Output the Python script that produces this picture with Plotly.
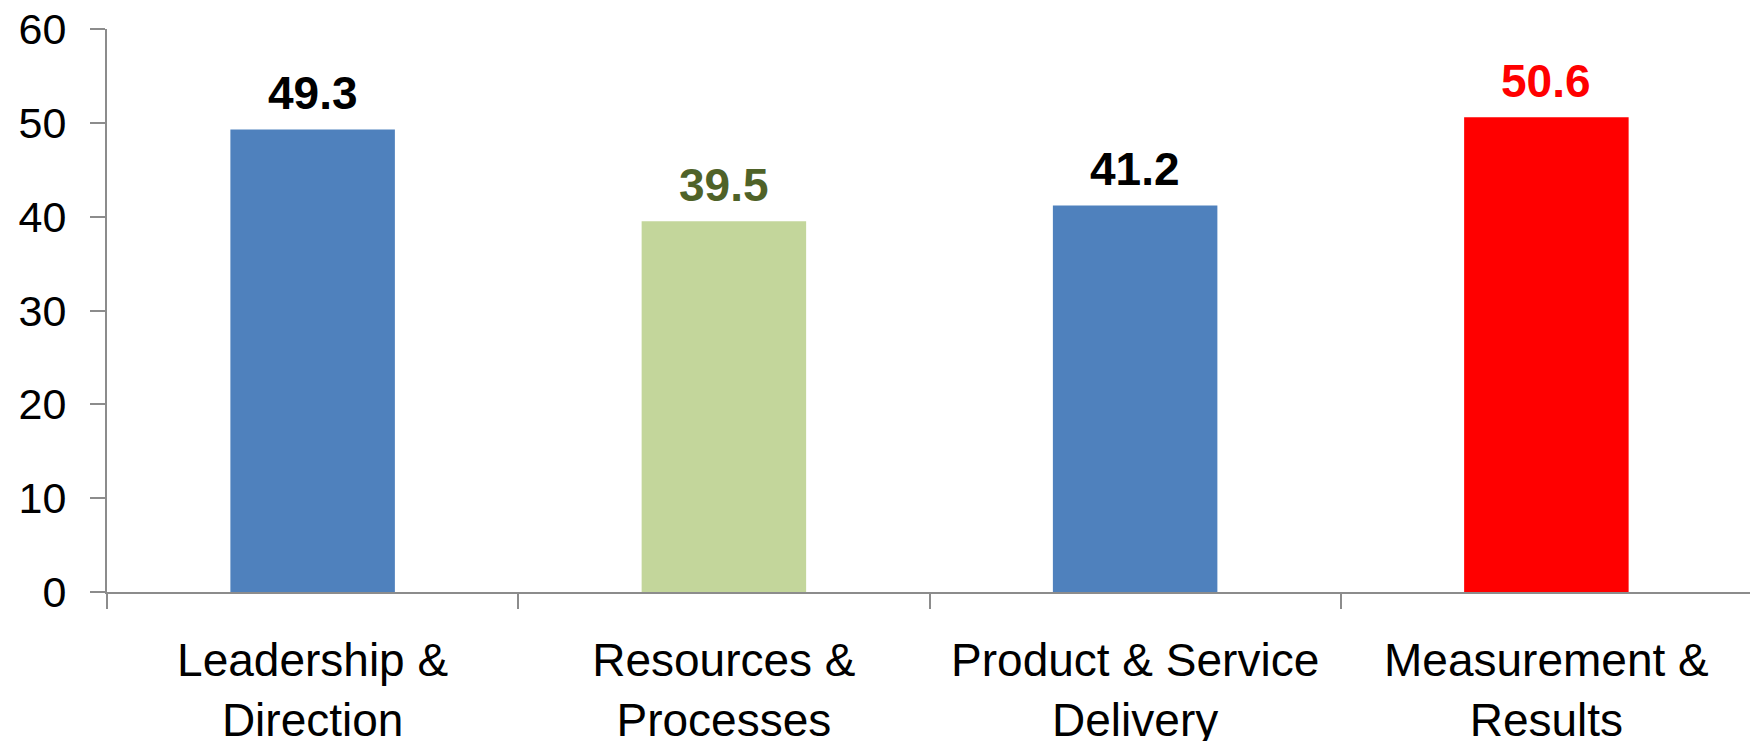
import plotly.graph_objects as go

categories = ["Leadership &<br>Direction", "Resources &<br>Processes",
              "Product & Service<br>Delivery", "Measurement &<br>Results"]
values = [49.3, 39.5, 41.2, 50.6]
bar_colors = ["#4F81BD", "#C3D69B", "#4F81BD", "#FF0000"]
label_colors = ["#000000", "#4F6228", "#000000", "#FF0000"]
y_ticks = [0, 10, 20, 30, 40, 50, 60]

FONT = "Liberation Sans, Arial, sans-serif"
AXIS_COLOR = "#8C8C8C"

fig = go.Figure()
fig.add_trace(go.Bar(
    x=categories, y=values,
    marker=dict(color=bar_colors, line=dict(width=0)),
    width=0.4,
    hoverinfo="x+y",
))

for c, v, col in zip(categories, values, label_colors):
    fig.add_annotation(
        x=c, y=v, text=f"<b>{v:.1f}</b>", showarrow=False,
        yanchor="bottom", yshift=8,
        font=dict(family=FONT, size=46, color=col),
    )

# page body adds an 8px offset; figure sized to fill the rest of the window
fig.update_layout(
    width=1750, height=733,
    margin=dict(l=99, r=6, t=21, b=149),
    paper_bgcolor="white", plot_bgcolor="white",
    showlegend=False,
    font=dict(family=FONT, color="black"),
    bargap=0.6,
)
fig.update_xaxes(
    type="category",
    tickson="boundaries",
    ticks="outside", ticklen=15, tickwidth=2, tickcolor=AXIS_COLOR,
    showline=True, linecolor=AXIS_COLOR, linewidth=2,
    showgrid=False, zeroline=False,
    tickfont=dict(family=FONT, size=46, color="black"),
    ticklabelstandoff=27,
    ticklabeloverflow="allow",
    automargin=False,
)
fig.update_yaxes(
    range=[0, 60],
    tickmode="array", tickvals=y_ticks,
    ticks="outside", ticklen=15, tickwidth=2, tickcolor=AXIS_COLOR,
    showline=True, linecolor=AXIS_COLOR, linewidth=2,
    showgrid=False, zeroline=False,
    tickfont=dict(family=FONT, size=43, color="black"),
    ticklabelstandoff=15,
    ticklabeloverflow="allow",
    automargin=False,
)

fig.write_html("out.html")
